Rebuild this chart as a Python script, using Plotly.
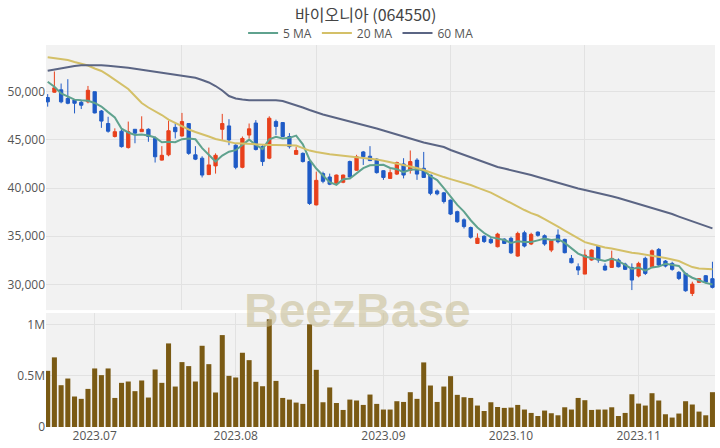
import pandas as pd
import plotly.graph_objects as go

title = "바이오니아 (064550)"
holidays = ["2023-08-15", "2023-09-28", "2023-09-29", "2023-10-02", "2023-10-03", "2023-10-09"]
dates = [d.strftime("%Y-%m-%d") for d in pd.bdate_range("2023-06-22", "2023-11-16")
         if d.strftime("%Y-%m-%d") not in holidays]

open_ = [49400, 49950, 50200, 49300, 49150, 48900, 48950, 50000, 48000, 46700,
         45350, 45900, 44200, 46100, 45850, 46100, 45150, 42900, 43450, 46300,
         45400, 46700, 43450, 43100, 41400, 42300, 46100, 46450, 44450, 42150,
         45500, 46750, 44300, 43100, 46900, 46800, 45350, 43500, 43600, 42750,
         38250, 41500, 41150, 40500, 40600, 42750, 41850, 43750, 43300, 43000,
         41800, 41000, 41450, 42500, 41850, 42900, 42050, 41350, 39700, 39500,
         38750, 37550, 36700, 35900, 34250, 35000, 34670, 33910, 34700, 34780,
         32940, 35360, 34190, 35430, 35050, 33560, 35120, 34670, 32700, 31830,
         31070, 32530, 33980, 31900, 31760, 32530, 32110, 31760, 30870, 32700,
         31830, 33630, 32420, 32180, 31250, 31140, 29060, 30210, 30900, 30590]
high = [49750, 52100, 50850, 51300, 49200, 49150, 50600, 50000, 48100, 47400,
        46200, 46200, 46900, 46100, 47450, 46200, 45350, 44350, 47000, 46700,
        47800, 46700, 44350, 43300, 44200, 43600, 47700, 47150, 44550, 45350,
        46700, 47050, 44550, 47450, 47100, 46850, 45700, 44300, 43700, 42900,
        41700, 41700, 41500, 41400, 41400, 42850, 43450, 43850, 44350, 43100,
        41850, 41950, 42750, 43100, 43900, 43100, 43750, 41350, 39850, 39600,
        38800, 37650, 36850, 36000, 35300, 35100, 34950, 35360, 34780, 34950,
        35470, 35570, 35360, 35500, 35190, 34600, 35710, 34740, 33050, 32180,
        33630, 33630, 34080, 32180, 33500, 32700, 32250, 32180, 32350, 32870,
        33630, 33770, 32530, 32350, 31380, 31210, 30280, 30620, 30970, 32350]
low = [48450, 49900, 48800, 48700, 47750, 48200, 48800, 47750, 46250, 45750,
       45250, 44200, 44100, 44650, 45850, 44800, 42650, 42850, 43300, 45150,
       45350, 43450, 42900, 41100, 41350, 41500, 45000, 44450, 41950, 42050,
       45150, 43900, 42300, 43000, 45500, 45300, 44100, 43450, 42650, 38250,
       38200, 40500, 40300, 40400, 40500, 41100, 41800, 42400, 42800, 41500,
       40850, 41000, 41350, 41000, 41500, 40850, 41100, 39250, 39250, 38400,
       37200, 36400, 35800, 34750, 34200, 34300, 34190, 33840, 34190, 33150,
       32870, 33840, 34080, 34950, 34010, 33350, 34260, 33220, 32180, 30970,
       31070, 32460, 32250, 31420, 31760, 31760, 31490, 29410, 30730, 30970,
       31760, 31830, 31760, 31420, 30450, 29240, 28790, 30170, 30100, 29580]
close = [48950, 50400, 48950, 48800, 48800, 48600, 50150, 47800, 46950, 45900,
         45850, 44300, 45850, 45700, 46100, 45350, 43250, 43400, 45950, 45850,
         46900, 43600, 43000, 41350, 42400, 43400, 46700, 45000, 42150, 45150,
         46150, 44000, 42750, 47250, 46400, 45350, 44300, 43900, 42750, 38400,
         40800, 40700, 40400, 41350, 41350, 41150, 43250, 43250, 42850, 41600,
         41100, 41600, 42650, 41350, 42750, 41450, 41100, 39450, 39400, 38600,
         37300, 36500, 36000, 34900, 34800, 34450, 34330, 35220, 34250, 33280,
         35290, 33980, 35190, 35090, 34190, 34530, 34430, 33290, 32250, 31490,
         33040, 33560, 32530, 31490, 32700, 31830, 31560, 30450, 32180, 31140,
         33490, 32010, 31900, 31560, 30620, 29340, 30030, 30590, 30240, 29690]
volume = [547000, 678000, 407000, 472000, 297000, 274000, 371000, 570000, 505000, 570000,
          283000, 430000, 443000, 349000, 453000, 287000, 560000, 430000, 814000, 394000,
          632000, 593000, 443000, 791000, 612000, 336000, 895000, 498000, 482000, 723000,
          651000, 440000, 397000, 1049000, 449000, 283000, 267000, 238000, 225000, 1000000,
          557000, 241000, 385000, 234000, 166000, 267000, 258000, 215000, 316000, 225000,
          170000, 170000, 251000, 244000, 339000, 274000, 629000, 404000, 244000, 394000,
          495000, 313000, 290000, 283000, 209000, 156000, 241000, 195000, 186000, 189000,
          215000, 170000, 137000, 107000, 160000, 134000, 114000, 192000, 170000, 283000,
          261000, 166000, 170000, 170000, 192000, 107000, 137000, 319000, 228000, 209000,
          329000, 258000, 124000, 92000, 131000, 251000, 219000, 150000, 114000, 339000]
ma5 = [51040, 50520, 49830, 49480, 49180, 49110, 49060, 48830, 48460, 47880,
       47330, 46160, 45770, 45520, 45560, 45460, 45250, 44760, 44810, 44760,
       45070, 45140, 45060, 44140, 43450, 42750, 43370, 43770, 43930, 44480,
       45030, 44490, 44040, 45060, 45310, 45150, 45210, 45440, 44540, 42940,
       42030, 41310, 40610, 40330, 40920, 40990, 41500, 42070, 42370, 42420,
       42410, 42080, 41960, 41660, 41890, 41960, 41860, 41220, 40830, 40000,
       39170, 38250, 37560, 36660, 35900, 35330, 34900, 34740, 34610, 34310,
       34470, 34400, 34400, 34570, 34750, 34600, 34690, 34310, 33740, 33200,
       32900, 32730, 32570, 32420, 32660, 32420, 32020, 31610, 31740, 31430,
       31760, 31850, 32140, 32020, 31920, 31090, 30690, 30430, 30160, 29980]
ma20 = [53570, 53500, 53420, 53290, 53080, 52930, 52720, 52410, 52150, 51730,
        51270, 50800, 50280, 49550, 48830, 48360, 48000, 47580, 47110, 46750,
        46370, 46080, 45820, 45610, 45350, 45090, 44930, 44730, 44640, 44620,
        44570, 44550, 44520, 44470, 44470, 44470, 44470, 44410, 44150, 43890,
        43740, 43600, 43500, 43430, 43350, 43320, 43250, 43170, 43080, 42960,
        42840, 42700, 42570, 42390, 42230, 42080, 41870, 41610, 41400, 41140,
        40930, 40730, 40520, 40310, 40050, 39790, 39530, 39170, 38810, 38440,
        38030, 37720, 37400, 37150, 36780, 36420, 36000, 35590, 35170, 34760,
        34390, 34190, 33980, 33820, 33720, 33560, 33410, 33280, 33200, 33100,
        32990, 32890, 32730, 32580, 32420, 32110, 31800, 31640, 31590, 31560]
ma60 = [52180, 52310, 52430, 52570, 52670, 52750, 52770, 52770, 52740, 52690,
        52640, 52570, 52480, 52380, 52270, 52170, 52070, 51960, 51860, 51760,
        51630, 51530, 51440, 51220, 50960, 50590, 50130, 49550, 49290, 49190,
        49110, 49110, 49110, 49110, 49110, 49030, 48830, 48620, 48360, 48100,
        47840, 47630, 47450, 47270, 47110, 46960, 46750, 46590, 46390, 46180,
        45970, 45760, 45560, 45300, 45090, 44880, 44730, 44570, 44410, 44260,
        43950, 43690, 43430, 43220, 42960, 42700, 42390, 42180, 42030, 41870,
        41710, 41560, 41350, 41140, 40940, 40730, 40520, 40310, 40100, 39950,
        39790, 39640, 39480, 39330, 39140, 38960, 38750, 38550, 38360, 38180,
        37980, 37750, 37510, 37300, 37040, 36780, 36520, 36260, 36000, 35820]

month_labels = ["2023.07", "2023.08", "2023.09", "2023.10", "2023.11"]
month_keys = ["2023-07", "2023-08", "2023-09", "2023-10", "2023-11"]
month_ticks = [next(d for d in dates if d.startswith(k)) for k in month_keys]
upper_grid = [dates[i] for i in (20, 40, 60, 80)]

price_ticks = [30000, 35000, 40000, 45000, 50000]
vol_ticks = [0, 500000, 1000000]
vol_labels = ["0", "0.5M", "1M"]

RED = "#E8401C"
BLUE = "#1F5BC6"

fig = go.Figure()
fig.add_trace(go.Candlestick(
    x=dates, open=open_, high=high, low=low, close=close,
    increasing=dict(line=dict(color=RED, width=1), fillcolor=RED),
    decreasing=dict(line=dict(color=BLUE, width=1), fillcolor=BLUE),
    whiskerwidth=0, showlegend=False, xaxis="x", yaxis="y"))
fig.add_trace(go.Scatter(x=dates, y=ma5, mode="lines", name="5 MA",
                         line=dict(color="#5FA28E", width=2), xaxis="x", yaxis="y"))
fig.add_trace(go.Scatter(x=dates, y=ma20, mode="lines", name="20 MA",
                         line=dict(color="#D4C068", width=2), xaxis="x", yaxis="y"))
fig.add_trace(go.Scatter(x=dates, y=ma60, mode="lines", name="60 MA",
                         line=dict(color="#5B6584", width=2), xaxis="x", yaxis="y"))
fig.add_trace(go.Bar(x=dates, y=volume, marker=dict(color="#7A5A14", line=dict(width=0)),
                     width=0.75, showlegend=False, xaxis="x2", yaxis="y2"))

grid = "#E2E2E2"
bg = "#F2F2F2"
tickfont = dict(family="Open Sans, sans-serif", size=12, color="#555")

fig.update_layout(
    width=720, height=448,
    margin=dict(l=46, r=5, t=45, b=21, autoexpand=False),
    paper_bgcolor="white", plot_bgcolor=bg,
    title=dict(text=title, x=0.508, xanchor="center", y=0.9665, yanchor="middle", yref="container",
               font=dict(family="Noto Sans CJK KR, sans-serif", size=16, color="#444")),
    legend=dict(orientation="h", x=0.471, xanchor="center", y=1.0314, yanchor="middle",
                font=dict(family="Open Sans, sans-serif", size=12, color="#555"),
                bgcolor="rgba(0,0,0,0)", itemwidth=30),
    xaxis=dict(type="category", domain=[0, 1], range=[-0.25, 99.38], anchor="y", automargin=False,
               tickmode="array", tickvals=upper_grid, showticklabels=False,
               showgrid=True, gridcolor=grid, rangeslider=dict(visible=False), zeroline=False),
    yaxis=dict(domain=[0.306, 1], range=[27330, 54850], tickmode="array", tickvals=price_ticks,
               automargin=False, tickformat=",", showgrid=True, gridcolor=grid,
               tickfont=tickfont, zeroline=False),
    xaxis2=dict(type="category", domain=[0, 1], range=[-0.25, 99.38], anchor="y2", automargin=False,
                tickmode="array", tickvals=month_ticks, ticktext=month_labels,
                showgrid=True, gridcolor=grid, tickfont=tickfont, zeroline=False),
    yaxis2=dict(domain=[0, 0.2984], range=[0, 1110000], tickmode="array", tickvals=vol_ticks,
                automargin=False, ticktext=vol_labels, showgrid=True, gridcolor=grid,
                tickfont=tickfont, zeroline=False),
    bargap=0.25, hovermode=False,
)
fig.add_annotation(text="<b>BeezBase</b>", xref="paper", yref="paper", x=0.466, y=0.306,
                   xanchor="center", yanchor="middle", showarrow=False,
                   font=dict(family="Liberation Sans, Arial, sans-serif", size=48,
                             color="rgba(200,190,150,0.6)"))
fig.write_html("out.html", config={"displayModeBar": False},
               post_script="document.body.style.margin='0px';document.body.style.padding='0px';")
